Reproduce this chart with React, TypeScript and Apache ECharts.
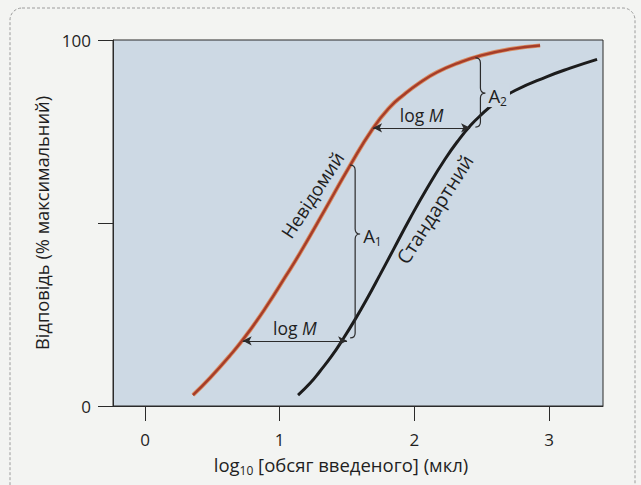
import React, { useEffect, useRef } from "react";
import * as echarts from "echarts";

// Curves (x = log10 dose, y = % of maximum response)
const unknownX = [0.356, 0.483, 0.631, 0.743, 0.891, 1.047, 1.151, 1.337, 1.522, 1.693, 1.819, 1.916, 2.042, 2.168, 2.324, 2.488, 2.71, 2.933];
const unknownY = [3.0, 7.7, 13.8, 18.9, 26.6, 35.6, 41.8, 53.7, 65.7, 75.9, 81.7, 84.9, 88.4, 91.2, 93.7, 95.7, 97.5, 98.5];
const standardX = [1.136, 1.225, 1.299, 1.389, 1.47, 1.559, 1.648, 1.745, 1.842, 1.968, 2.094, 2.228, 2.339, 2.413, 2.488, 2.599, 2.747, 2.985, 3.156, 3.356];
const standardY = [3.0, 6.2, 9.5, 13.8, 18.3, 23.6, 29.3, 35.9, 42.6, 51.3, 59.5, 67.5, 73.2, 76.5, 79.3, 82.8, 86.2, 90.0, 92.3, 94.7];

// Axis ticks and labels
const xTicks = [0, 1, 2, 3];
const yTicks = [0, 50, 100];
const yLabels = [0, 100];

// Horizontal "log M" arrows
const arrowY = [17.8, 76.0];
const arrowFrom = [0.725, 1.693];
const arrowTo = [1.5, 2.413];

// Vertical braces A1, A2
const braceNames = ["A{s|1}", "A{s|2}"];
const braceX = [1.56, 2.49];
const braceTop = [65.8, 95.1];
const braceBottom = [18.6, 76.2];
const braceTip = [47.0, 85.5];

// Curve names placed along the curves
const curveNames = ["Невідомий", "Стандартний"];
const curveNameX = [1.24, 2.15];
const curveNameY = [57.7, 53.8];
const curveNameAngle = [57, 57.5];
const curveNameSize = [18.5, 19.5];

const FONT = "Open Sans";
const INK = "#1f1f1f";
const PLOT_BG = "#cdd9e4";

export default function App() {
  const ref = useRef<HTMLDivElement>(null);

  useEffect(() => {
    if (!ref.current) return;
    const chart = echarts.init(ref.current, undefined, { renderer: "svg" });

    const unknownData = unknownX.map((x, i) => [x, unknownY[i]]);
    const standardData = standardX.map((x, i) => [x, standardY[i]]);
    const braceData = braceX.map((x, i) => [x, braceTop[i], braceBottom[i], braceTip[i]]);
    const nameData = curveNameX.map((x, i) => [x, curveNameY[i], curveNameAngle[i]]);
    const arrowLines = arrowY.map((y, i) => [
      { coord: [arrowFrom[i], y] },
      { coord: [arrowTo[i], y] },
    ]);

    const option: any = {
      animation: false,
      backgroundColor: "#f3f4f2",
      textStyle: { fontFamily: FONT },
      graphic: [
        {
          type: "rect",
          shape: { x: 10, y: 8, width: 625, height: 500, r: 12 },
          style: { fill: "none", stroke: "#9c9c9c", lineWidth: 1, lineDash: [3, 2] },
          silent: true,
        },
      ],
      grid: {
        left: 113,
        top: 40,
        width: 490,
        height: 366,
        show: true,
        backgroundColor: PLOT_BG,
        borderColor: "#2a2a2a",
        borderWidth: 1,
      },
      xAxis: {
        type: "value",
        min: -0.2376,
        max: 3.4,
        axisLine: { show: true, onZero: false, lineStyle: { color: "#2a2a2a", width: 1 } },
        axisTick: {
          show: true,
          inside: false,
          length: 15,
          customValues: xTicks,
          lineStyle: { color: "#2a2a2a", width: 1 },
        },
        axisLabel: {
          customValues: xTicks,
          margin: 25,
          fontSize: 17,
          color: INK,
          fontFamily: FONT,
        },
        splitLine: { show: false },
        name: "{b|log}{s|10}{b| [обсяг введеного] (мкл)}",
        nameLocation: "middle",
        nameGap: 46,
        nameTextStyle: {
          fontSize: 18.5,
          color: INK,
          fontFamily: FONT,
          padding: [0, 34, 0, 0],
          rich: {
            b: { fontSize: 18.5, lineHeight: 24, color: INK, fontFamily: FONT },
            s: { fontSize: 12, lineHeight: 11, verticalAlign: "bottom", color: INK, fontFamily: FONT },
          },
        },
      },
      yAxis: {
        type: "value",
        min: 0,
        max: 100,
        axisLine: { show: true, onZero: false, lineStyle: { color: "#2a2a2a", width: 1 } },
        axisTick: {
          show: true,
          inside: false,
          length: 15,
          customValues: yTicks,
          lineStyle: { color: "#2a2a2a", width: 1 },
        },
        axisLabel: {
          customValues: yLabels,
          margin: 22,
          fontSize: 17,
          color: INK,
          fontFamily: FONT,
        },
        splitLine: { show: false },
        name: "Відповідь (% максимальний)",
        nameLocation: "middle",
        nameGap: 57,
        nameTextStyle: { fontSize: 18.3, color: INK, fontFamily: FONT },
      },
      series: [
        {
          type: "line",
          data: unknownData,
          smooth: 0.5,
          symbol: "none",
          lineStyle: { color: "#d98c62", width: 4.2 },
          z: 2,
          silent: true,
        },
        {
          type: "line",
          name: "Невідомий",
          data: unknownData,
          smooth: 0.5,
          symbol: "none",
          lineStyle: { color: "#a63d29", width: 2.4 },
          z: 3,
          silent: true,
        },
        {
          type: "line",
          name: "Стандартний",
          data: standardData,
          smooth: 0.5,
          symbol: "none",
          lineStyle: { color: "#1c1c1c", width: 3 },
          z: 3,
          silent: true,
          markLine: {
            silent: true,
            symbol: ["arrow", "arrow"],
            symbolSize: [7, 9],
            lineStyle: { color: "#2b2b2b", width: 1.2, type: "solid" },
            label: {
              show: true,
              position: "middle",
              distance: 4,
              formatter: "{b|log }{i|M}",
              color: INK,
              fontFamily: FONT,
              rich: {
                b: { fontSize: 17.5, color: INK, fontFamily: FONT },
                i: { fontStyle: "italic", fontSize: 17.5, color: INK, fontFamily: FONT },
              },
            },
            data: arrowLines,
            z: 5,
          },
        },
        {
          type: "custom",
          data: braceData,
          encode: { x: 0, y: [1, 2, 3] },
          silent: true,
          z: 6,
          renderItem: (params: any, api: any) => {
            const x = api.value(0);
            const pTop = api.coord([x, api.value(1)]);
            const pBot = api.coord([x, api.value(2)]);
            const pTip = api.coord([x, api.value(3)]);
            const X = pTop[0];
            const r = 5;
            const w = 5;
            const d =
              `M${X - r},${pTop[1]} Q${X},${pTop[1]} ${X},${pTop[1] + r} ` +
              `L${X},${pTip[1] - r} Q${X},${pTip[1]} ${X + w},${pTip[1]} ` +
              `Q${X},${pTip[1]} ${X},${pTip[1] + r} ` +
              `L${X},${pBot[1] - r} Q${X},${pBot[1]} ${X - r},${pBot[1]}`;
            return {
              type: "group",
              children: [
                {
                  type: "path",
                  shape: { pathData: d },
                  style: { fill: "none", stroke: "#2b2b2b", lineWidth: 1.2 },
                },
                {
                  type: "text",
                  x: X + w + 2,
                  y: pTip[1] + 2,
                  style: {
                    text: braceNames[params.dataIndex].replace(/^A/, "{b|A}"),
                    fill: INK,
                    fontFamily: FONT,
                    align: "left",
                    verticalAlign: "middle",
                    backgroundColor: PLOT_BG,
                    padding: [0, 3, 0, 1],
                    rich: {
                      b: { fontSize: 18.5, lineHeight: 24, fill: INK, fontFamily: FONT },
                      s: { fontSize: 12, lineHeight: 12, verticalAlign: "bottom", fill: INK, fontFamily: FONT },
                    },
                  },
                },
              ],
            };
          },
        },
        {
          type: "custom",
          data: nameData,
          encode: { x: 0, y: 1 },
          silent: true,
          z: 6,
          renderItem: (params: any, api: any) => {
            const p = api.coord([api.value(0), api.value(1)]);
            return {
              type: "text",
              x: p[0],
              y: p[1],
              rotation: (api.value(2) * Math.PI) / 180,
              style: {
                text: curveNames[params.dataIndex],
                fill: INK,
                fontSize: curveNameSize[params.dataIndex],
                fontFamily: FONT,
                align: "center",
                verticalAlign: "middle",
              },
            };
          },
        },
      ],
    };

    chart.setOption(option);
    return () => chart.dispose();
  }, []);

  return (
    <div
      ref={ref}
      style={{ position: "fixed", left: 0, top: 0, width: 641, height: 485 }}
    />
  );
}
